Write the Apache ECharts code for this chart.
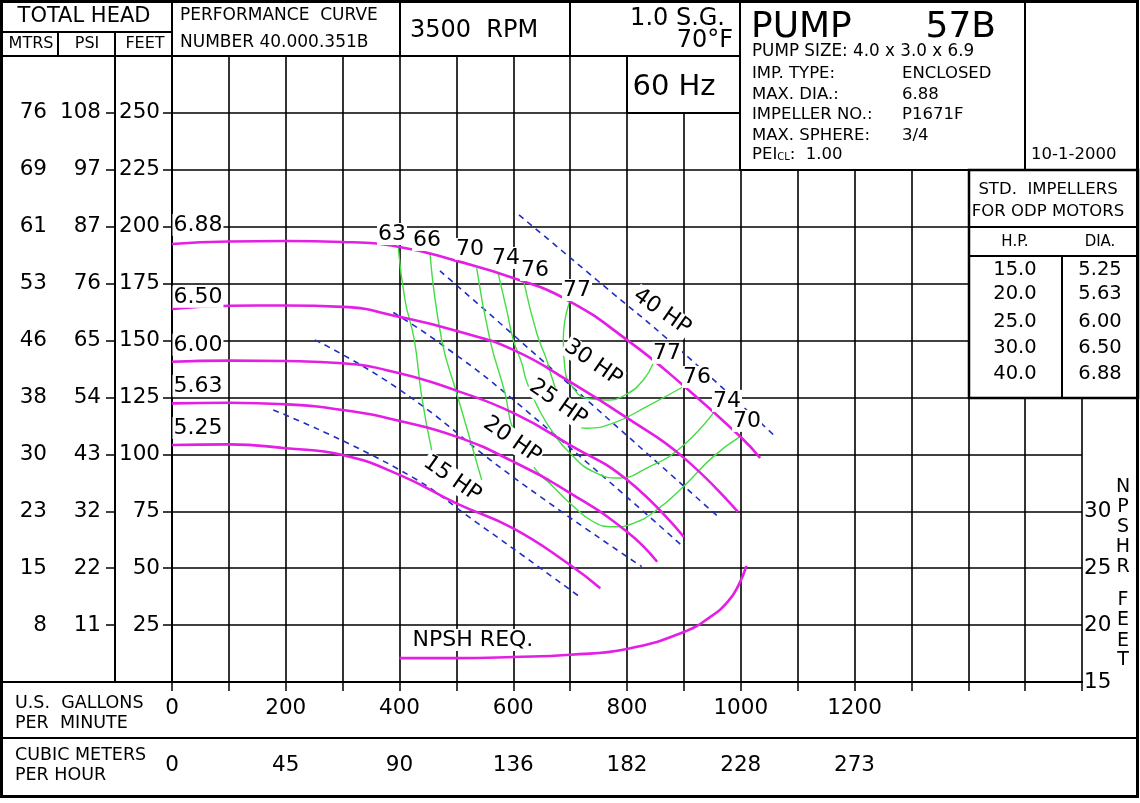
<!DOCTYPE html>
<html><head><meta charset="utf-8">
<script src="https://cdn.jsdelivr.net/npm/echarts@6/dist/echarts.min.js"></script>
<style>html,body{margin:0;padding:0;background:#fff}#c{width:1140px;height:803px}</style>
</head><body><div id="c"></div>
<script>
// ---- tick labels ----
const gpmTicks = [0,200,400,600,800,1000,1200];
const gpmLabels = ['0','200','400','600','800','1000','1200'];
const cmhLabels = ['0','45','90','136','182','228','273'];
const feetTicks = [25,50,75,100,125,150,175,200,225,250];
const feetLabels = ['25','50','75','100','125','150','175','200','225','250'];
const mtrsLabels = ['8','15','23','30','38','46','53','61','69','76'];
const psiLabels = ['11','22','32','43','54','65','76','87','97','108'];
const npshTicks = [15,20,25,30];
const npshLabels = ['15','20','25','30'];

// ---- head curves (GPM, feet) ----
const dia688 = [[0,192.4],[100,193.5],[200,193.7],[300,193.3],[400,191.1],[500,185.0],[600,177.5],[695,167.8],[800,150.3],[898,130.5],[1000,107.6],[1034,98.4]];
const dia650 = [[0,163.9],[100,165.3],[200,165.4],[300,164.8],[400,160.4],[501,154.2],[600,145.9],[700,131.8],[800,116.0],[898,98.9],[995,74.7]];
const dia600 = [[0,140.7],[100,141.2],[200,141.0],[300,140.0],[400,135.6],[500,128.0],[600,118.2],[700,104.1],[800,88.8],[900,63.7]];
const dia563 = [[0,122.4],[100,122.7],[200,122.0],[300,119.5],[400,114.7],[500,107.8],[600,96.8],[700,83.0],[800,66.0],[853,52.8]];
const dia525 = [[0,104.1],[100,104.4],[200,102.7],[300,99.7],[400,91.0],[500,78.5],[600,67.5],[700,51.4],[753,41.2]];
// ---- NPSH required (GPM, feet on right axis) ----
const npshReq = [[400,17.1],[500,17.1],[600,17.2],[700,17.4],[800,17.9],[900,19.4],[946,20.7],[978,22.1],[997,23.6],[1010,25.2]];
// ---- efficiency curves ----
const eff63 = [[397.9,190.6],[409.7,167.8],[426.0,150.3],[439.0,125.4],[456.6,101.9]];
const eff66 = [[453.6,188.3],[474.2,150.3],[500.6,126.8],[521.0,109.3],[544.5,88.8]];
const eff70 = [[535.7,181.8],[559.1,150.3],[585.5,126.9],[600.1,110.7],[635.3,94.6],[670.4,85.8],[699.8,78.5],[740.7,70.4],[775.9,68.2],[811.1,69.7],[852.2,75.6],[899.0,85.8],[951.7,99.0],[998.7,107.8]];
const eff74 = [[573.7,179.3],[588.5,163.4],[600.1,150.3],[614.9,140.1],[623.6,132.0],[644.0,120.3],[670.4,109.3],[699.8,100.5],[740.7,92.4],[787.7,89.6],[834.6,94.0],[893.2,102.7],[951.7,118.1]];
const eff76 = [[618.9,175.4],[641.3,153.2],[658.8,141.5],[670.4,131.9],[692.7,117.8],[729.1,111.5],[775.9,113.7],[834.6,121.0],[899.0,129.7]];
const eff77 = [[698.0,166.4],[688.0,150.3],[691.0,137.1],[705.6,129.2],[729.1,124.6],[764.3,123.9],[799.5,126.5],[828.7,132.7],[846.2,140.0]];
// ---- horsepower lines ----
const hp40 = [[610,205.2],[747,176.6],[893,145.9],[1058,108.5]];
const hp30 = [[471.2,180.6],[600.1,152.5],[963.5,71.9]];
const hp25 = [[389.1,162.3],[471.2,148.8],[600,124.0],[899,59.4]];
const hp20 = [[251.4,150.3],[400.9,128.3],[600,90.0],[825.9,50.7]];
const hp15 = [[178.1,119.5],[400.9,93.1],[541.5,69.0],[720.3,36.8]];
// ---- in-plot annotations (GPM, feet, text, rotation) ----
const annotations = [
  [45.7,200.8,'6.88',0],[45.7,169.2,'6.50',0],[45.7,148.1,'6.00',0],[45.7,130.1,'5.63',0],[45.7,111.6,'5.25',0],
  [386.8,196.8,'63',0],[448.4,194.2,'66',0],[524.0,190.2,'70',0],[587.3,186.3,'74',0],[638.2,181.0,'76',0],[712.1,172.2,'77',0],
  [870.3,144.6,'77',0],[923.1,134.0,'76',0],[975.8,123.5,'74',0],[1011.0,114.7,'70',0],
  [861.5,162.6,'40 HP',-35],[740.2,140.2,'30 HP',-35],[678.7,122.6,'25 HP',-35],[597.8,106.3,'20 HP',-35],[492.3,89.2,'15 HP',-35],
  [529.2,18.5,'NPSH REQ.',0]
];
// ---- table of standard impellers ----
const stdHP = ['15.0','20.0','25.0','30.0','40.0'];
const stdDIA = ['5.25','5.63','6.00','6.50','6.88'];

const FONT = '"DejaVu Sans", Verdana, sans-serif';
const MAG = '#e41ee4', GRN = '#44dd44', BLU = '#1f2fc4';

function fmt(ticks, labels){ return v => { const i = ticks.indexOf(Math.round(v)); return i < 0 ? '' : labels[i]; }; }
function headSeries(d){ return {type:'line', data:d, smooth:0.5, symbol:'none', silent:true, z:3, lineStyle:{color:MAG, width:2.6}}; }
function effSeries(d){ return {type:'line', data:d, smooth:0.5, symbol:'none', silent:true, z:2, lineStyle:{color:GRN, width:1.4}}; }
function hpSeries(d){ return {type:'line', data:d, smooth:0.5, symbol:'none', silent:true, z:2, lineStyle:{color:BLU, width:1.6, type:[6,5]}}; }

const G = [];
function L(x1,y1,x2,y2,w){ G.push({type:'line', z:100, shape:{x1,y1,x2,y2}, style:{stroke:'#000', lineWidth:w||2}}); }
function R(x,y,w,h,lw){ G.push({type:'rect', z:99, shape:{x,y,width:w,height:h}, style:{fill:'#fff', stroke:'#000', lineWidth:lw||2}}); }
function T(text,x,y,size,align,rich){ const st = {text, font:size+'px '+FONT, fill:'#000', textAlign:align||'left', textVerticalAlign:'middle', align:align||'left', verticalAlign:'middle'}; if(rich) st.rich = rich; G.push({type:'text', z:101, x, y, style:st}); }

// header boxes
R(740,1,285,169); R(1025,1,113,169); R(627,56,113,57); R(969,170,169,228,2.5);
L(0,32,172,32); L(0,56,740,56); L(58,32,58,56); L(115,32,115,56);
L(172,0,172,56); L(400,0,400,56); L(570,0,570,56);
L(969,227,1138,227); L(969,256,1138,256); L(1062,256,1062,398);
L(0,682,172,682); L(0,738,1138,738);
G.push({type:'rect', z:102, shape:{x:1.5,y:1.5,width:1136,height:795}, style:{fill:null, stroke:'#000', lineWidth:3}});
// texts
T('TOTAL HEAD',84,17,21,'center'); T('MTRS',31,44,16,'center'); T('PSI',87,44,16,'center'); T('FEET',145,44,16,'center');
T('PERFORMANCE  CURVE',180,16,17); T('NUMBER 40.000.351B',180,43,17);
T('3500  RPM',410,31,24); T('1.0 S.G.',725,19,24,'right'); T('70°F',733,41,24,'right'); T('60 Hz',674,87,29,'center');
T('PUMP',751,28,36); T('57B',996,28,36,'right');
T('PUMP SIZE: 4.0 x 3.0 x 6.9',752,52,16.8);
T('IMP. TYPE:',752,74,16.5); T('ENCLOSED',902,74,16.5);
T('MAX. DIA.:',752,95,16.5); T('6.88',902,95,16.5);
T('IMPELLER NO.:',752,115,16.5); T('P1671F',902,115,16.5);
T('MAX. SPHERE:',752,136,16.5); T('3/4',902,136,16.5);
T('{a|PEI}{b|CL}{a|:  1.00}',752,155,16.5,'left',{a:{font:'16.5px '+FONT, fill:'#000'}, b:{font:'10px '+FONT, fill:'#000', padding:[5,0,0,0]}});
T('10-1-2000',1031,155,16.5);
T('STD.  IMPELLERS',1048,190,16.5,'center'); T('FOR ODP MOTORS',1048,212,16.5,'center');
T('H.P.',1015,242,15,'center'); T('DIA.',1100,242,15,'center');
const rowY = [270,294,322,348,374];
stdHP.forEach((s,i)=>T(s,1015,rowY[i],19.5,'center'));
stdDIA.forEach((s,i)=>T(s,1100,rowY[i],19.5,'center'));
T('U.S.  GALLONS',15,703,17.5); T('PER  MINUTE',15,723,17.5); T('CUBIC METERS',15,755,17.5); T('PER HOUR',15,775,17.5);
[['N',487],['P',507],['S',527],['H',547],['R',567],['F',600],['E',620],['E',641],['T',660]].forEach(a=>T(a[0],1123,a[1],19,'center'));

const axisTxt = {color:'#000', fontSize:21.5, fontFamily:FONT};
const blackLine = {show:true, lineStyle:{color:'#000', width:2}};
const option = {
  animation:false,
  backgroundColor:'#fff',
  grid:{left:172, right:58, top:56, bottom:121, containLabel:false},
  xAxis:[
    {type:'value', min:0, max:1600, interval:100, position:'bottom',
     axisLine:blackLine, axisTick:{show:true, length:8, lineStyle:{color:'#000', width:1.5}},
     axisLabel:Object.assign({margin:15, formatter:fmt(gpmTicks,gpmLabels)}, axisTxt),
     splitLine:{show:true, lineStyle:{color:'#000', width:1.6}}},
    {type:'value', min:0, max:1600, interval:100, position:'bottom', offset:56,
     axisLine:blackLine, axisTick:{show:true, length:9, lineStyle:{color:'#000', width:1.5}},
     axisLabel:Object.assign({margin:16, formatter:fmt(gpmTicks,cmhLabels)}, axisTxt),
     splitLine:{show:false}}
  ],
  yAxis:[
    {type:'value', min:0, max:275, interval:25, position:'left',
     axisLine:blackLine, axisTick:{show:true, length:9, lineStyle:{color:'#000', width:1.5}},
     axisLabel:Object.assign({margin:12, formatter:fmt(feetTicks,feetLabels)}, axisTxt),
     splitLine:{show:true, lineStyle:{color:'#000', width:1.6}}},
    {type:'value', min:0, max:275, interval:25, position:'left', offset:114,
     axisLine:blackLine, axisTick:{show:true, length:9, lineStyle:{color:'#000', width:1.5}},
     axisLabel:Object.assign({margin:11, formatter:fmt(feetTicks,mtrsLabels)}, axisTxt),
     splitLine:{show:false}},
    {type:'value', min:0, max:275, interval:25, position:'left', offset:57,
     axisLine:blackLine, axisTick:{show:true, length:9, lineStyle:{color:'#000', width:1.5}},
     axisLabel:Object.assign({margin:14, formatter:fmt(feetTicks,psiLabels)}, axisTxt),
     splitLine:{show:false}},
    {type:'value', min:15, max:70, interval:5, position:'right',
     axisLine:{show:false}, axisTick:{show:false},
     axisLabel:Object.assign({margin:2, formatter:fmt(npshTicks,npshLabels)}, axisTxt),
     splitLine:{show:false}}
  ],
  series:[
    hpSeries(hp40), hpSeries(hp30), hpSeries(hp25), hpSeries(hp20), hpSeries(hp15),
    effSeries(eff63), effSeries(eff66), effSeries(eff70), effSeries(eff74), effSeries(eff76), effSeries(eff77),
    headSeries(dia688), headSeries(dia650), headSeries(dia600), headSeries(dia563), headSeries(dia525),
    Object.assign(headSeries(npshReq), {yAxisIndex:3}),
    {type:'scatter', silent:true, z:6, symbolSize:1, itemStyle:{color:'rgba(255,255,255,0)'},
     data: annotations.map(a=>({value:[a[0],a[1]], name:a[2], label:{rotate:a[3]}})),
     label:{show:true, position:'inside', formatter:'{b}', color:'#000', opacity:1, textBorderWidth:0, fontSize:22, fontFamily:FONT, backgroundColor:'#fff', padding:[0,1]}}
  ],
  graphic:{elements:G}
};
const chart = echarts.init(document.getElementById('c'), null, {renderer:'canvas'});
chart.setOption(option);
</script></body></html>
